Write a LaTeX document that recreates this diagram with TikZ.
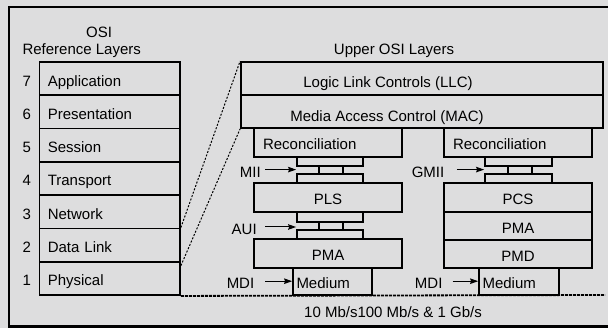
\documentclass[tikz,border=0pt]{standalone}
\usepackage{fontspec}
\setmainfont{Liberation Sans}
\usetikzlibrary{arrows.meta}
\newcommand\myfs{\fontsize{15}{18}\selectfont}
\definecolor{bg}{RGB}{221,221,222}
\tikzset{
  txt/.style={font=\myfs, text height=15pt, text depth=0pt, inner sep=0pt},
  box/.style={txt, draw=black, line width=1.8pt},
  plate/.style={draw=black, line width=1.8pt, inner sep=0pt},
  osirow/.style={box, minimum width=140.5pt, minimum height=33.29pt, text width=124pt, align=left},
  wide/.style={box, minimum width=362pt, minimum height=33pt},
  sub/.style={box, minimum width=148pt, minimum height=29pt, align=center},
  recbox/.style={sub, text width=130pt, align=left},
  medbox/.style={box, minimum height=27pt, align=left},
  arr/.style={line width=1pt, -{Stealth[length=8pt,width=5.5pt,inset=1pt]}},
  slant/.style={line width=1pt, dash pattern=on 2pt off 1.6pt},
  floor/.style={line width=1.8pt, dash pattern=on 3pt off 1pt}
}
\begin{document}
\begin{tikzpicture}[x=1pt,y=-1pt]
\fill[bg] (0,0) rectangle (608,328);
\useasboundingbox (0,0) rectangle (608,328);
\draw[line width=2.2pt] (620,7) -- (8.6,7) -- (8.6,326.5) -- (620,326.5);

% titles
\node[txt] (osit) at (99,29.6) {OSI};
\node[txt] (reft) at (81.7,46.7) {Reference Layers};
\node[txt] (upt) at (394,47) {Upper OSI Layers};

% OSI stack
\node[osirow] (l7) at (109.75,78.6) {Application};
\node[osirow] (l6) at (109.75,111.9) {Presentation};
\node[osirow] (l5) at (109.75,145.2) {Session};
\node[osirow] (l4) at (109.75,178.5) {Transport};
\node[osirow] (l3) at (109.75,211.8) {Network};
\node[osirow] (l2) at (109.75,245.1) {Data Link};
\node[osirow] (l1) at (109.75,278.4) {Physical};
\node[txt] (n7) at (26.7,78.6) {7};
\node[txt] (n6) at (26.7,111.9) {6};
\node[txt] (n5) at (26.7,145.2) {5};
\node[txt] (n4) at (26.7,178.5) {4};
\node[txt] (n3) at (26.7,211.8) {3};
\node[txt] (n2) at (26.7,245.1) {2};
\node[txt] (n1) at (26.7,278.4) {1};

% upper layers
\node[wide] (llc) at (422,78.5) {};
\node[wide] (mac) at (422,111.5) {};
\node[txt] (llct) at (388,80.4) {Logic Link Controls (LLC)};
\node[txt] (mact) at (387,113.7) {Media Access Control (MAC)};

% left column
\node[recbox] (recl) at (328,142.5) {Reconciliation};
\node[plate, minimum width=66pt, minimum height=9pt] (miit) at (330,161.5) {};
\node[plate, minimum width=24pt, minimum height=8pt] (miim) at (331,170) {};
\node[plate, minimum width=66pt, minimum height=9pt] (miib) at (330,178.5) {};
\node[sub] (pls) at (328,197.5) {PLS};
\node[plate, minimum width=66pt, minimum height=10pt] (auit) at (330,217) {};
\node[plate, minimum width=24pt, minimum height=8pt] (auim) at (331,226) {};
\node[plate, minimum width=66pt, minimum height=9pt] (auib) at (330,234.5) {};
\node[sub] (pmal) at (328,253.5) {PMA};
\node[medbox, minimum width=79pt, text width=72pt] (medl) at (332.5,281.5) {Medium};

% right column
\node[recbox] (recr) at (518,142.5) {Reconciliation};
\node[plate, minimum width=67pt, minimum height=9pt] (gmiit) at (518.5,161.5) {};
\node[plate, minimum width=24pt, minimum height=8pt] (gmiim) at (520,170) {};
\node[plate, minimum width=67pt, minimum height=9pt] (gmiib) at (518.5,178.5) {};
\node[sub] (pcs) at (518,197.5) {PCS};
\node[sub, minimum height=28.5pt] (pmar) at (518,225.75) {PMA};
\node[sub, minimum height=28pt] (pmd) at (518,254) {PMD};
\node[medbox, minimum width=80pt, text width=73pt] (medr) at (519,281.5) {Medium};

% interface labels
\node[txt] (mii) at (250.4,169.6) {MII};
\node[txt] (aui) at (244.2,227) {AUI};
\node[txt] (mdil) at (240.5,281.2) {MDI};
\node[txt] (gmii) at (428,169.6) {GMII};
\node[txt] (mdir) at (428.7,281.2) {MDI};

\draw[arr] ([xshift=4.2pt]mii.east) -- (mii.east -| miit.west);
\draw[arr] ([xshift=8.3pt]aui.east) -- (aui.east -| auit.west);
\draw[arr] ([xshift=11pt]mdil.east) -- (mdil.east -| medl.west);
\draw[arr] ([xshift=12.5pt]gmii.east) -- (gmii.east -| gmiit.west);
\draw[arr] ([xshift=10pt]mdir.east) -- (mdir.east -| medr.west);

% dotted lines
\draw[slant] (l2.north east) -- (llc.north west);
\draw[slant] ([yshift=-3pt]l2.south east) -- (mac.south west);
\coordinate (floorend) at (605,295);
\draw[floor] (l1.south east) -- (floorend);

\node[txt] (speed) at (393,310) {10 Mb/s100 Mb/s \& 1 Gb/s};
\end{tikzpicture}
\end{document}
